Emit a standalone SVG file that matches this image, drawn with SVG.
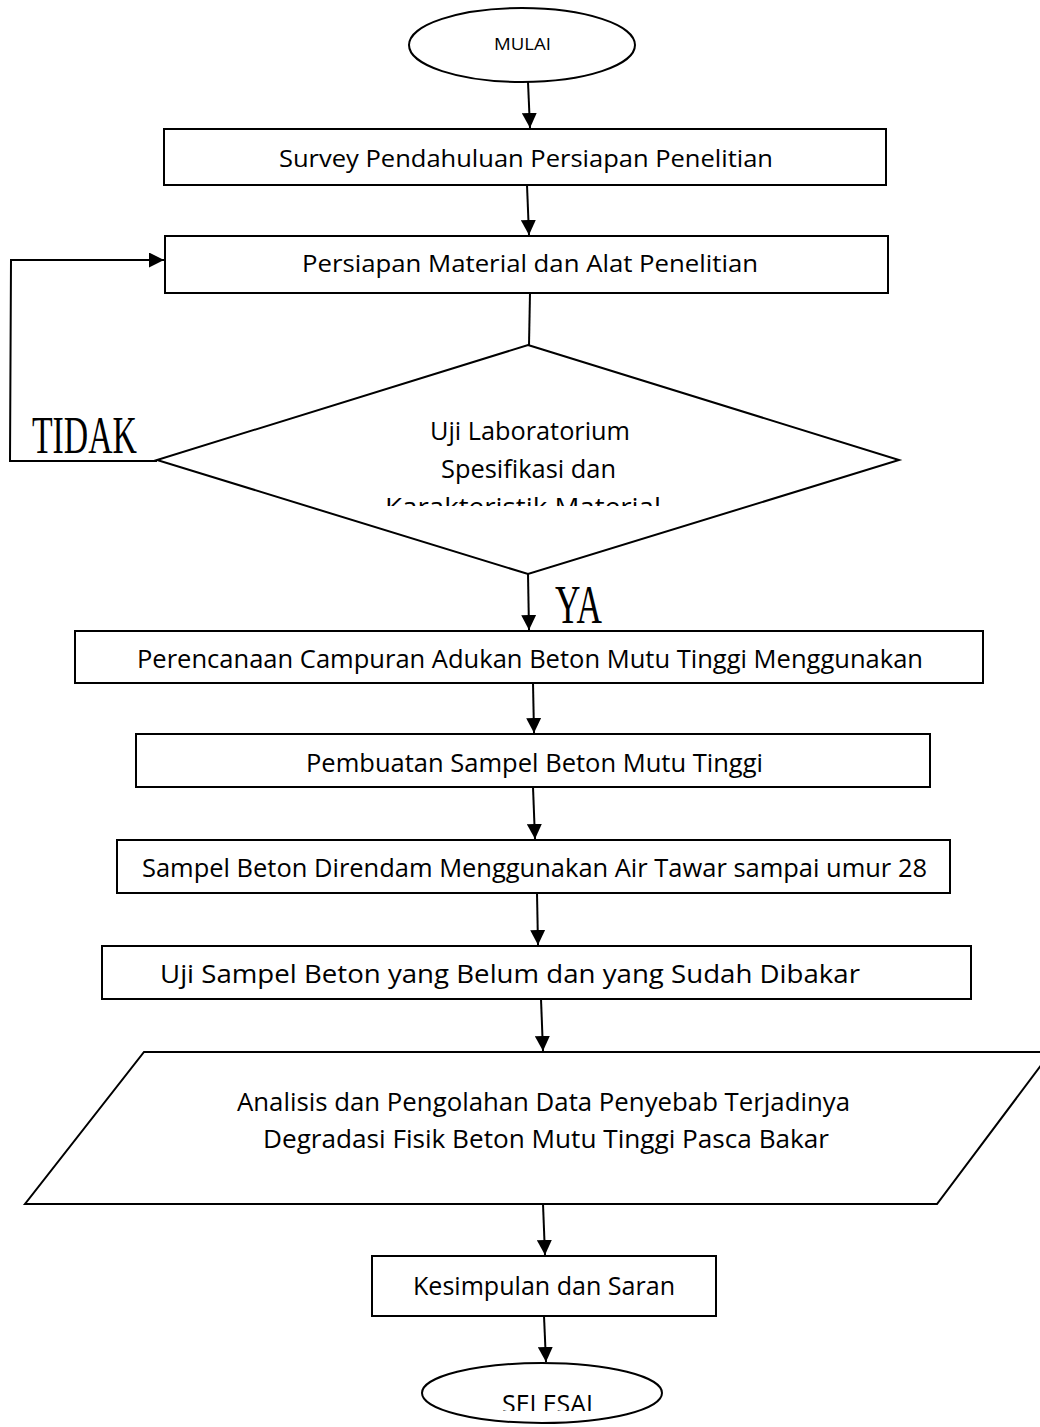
<svg xmlns="http://www.w3.org/2000/svg" width="1040" height="1427" viewBox="0 0 1040 1427">
<style>
.shape{fill:#fff;stroke:#000;stroke-width:2}
.tn{font-family:"Open Sans","Liberation Sans",sans-serif;fill:#000}
.serif{font-family:"Liberation Serif","DejaVu Serif",serif;fill:#000}
.conn{fill:none;stroke:#000;stroke-width:2}
</style>
<defs>
<marker id="ah" markerUnits="userSpaceOnUse" markerWidth="15" markerHeight="15" refX="15" refY="7.5" orient="auto" viewBox="0 0 15 15">
<path d="M0,0 L15,7.5 L0,15 z" fill="#000"/>
</marker>
<clipPath id="clipDia"><rect x="150" y="340" width="760" height="166"/></clipPath>
<clipPath id="clipEnd"><rect x="400" y="1360" width="300" height="51"/></clipPath>
</defs>
<rect width="1040" height="1427" fill="#fff"/>

<g id="mulai">
<ellipse class="shape" cx="522" cy="45" rx="113" ry="37"/>
<text class="tn" x="494" y="50" font-size="17" textLength="57" lengthAdjust="spacingAndGlyphs">MULAI</text>
</g>

<g id="survey">
<rect class="shape" x="164" y="129" width="722" height="56"/>
<text class="tn" x="279" y="167" font-size="24" textLength="494" lengthAdjust="spacingAndGlyphs">Survey Pendahuluan Persiapan Penelitian</text>
</g>

<g id="persiapan">
<rect class="shape" x="165" y="236" width="723" height="57"/>
<text class="tn" x="302" y="272" font-size="24" textLength="456" lengthAdjust="spacingAndGlyphs">Persiapan Material dan Alat Penelitian</text>
</g>

<g id="uji-lab">
<polygon class="shape" points="528,345 899,460 528,574 157,460"/>
<text class="tn" x="430" y="440" font-size="25" textLength="200" lengthAdjust="spacingAndGlyphs">Uji Laboratorium</text>
<text class="tn" x="441" y="478" font-size="25" textLength="175" lengthAdjust="spacingAndGlyphs">Spesifikasi dan</text>
<g clip-path="url(#clipDia)">
<text class="tn" x="385" y="516" font-size="25" textLength="276" lengthAdjust="spacingAndGlyphs">Karakteristik Material</text>
</g>
</g>

<g id="perencanaan">
<rect class="shape" x="75" y="631" width="908" height="52"/>
<text class="tn" x="137" y="668" font-size="26" textLength="786" lengthAdjust="spacingAndGlyphs">Perencanaan Campuran Adukan Beton Mutu Tinggi Menggunakan</text>
</g>

<g id="pembuatan">
<rect class="shape" x="136" y="734" width="794" height="53"/>
<text class="tn" x="306" y="772" font-size="26" textLength="457" lengthAdjust="spacingAndGlyphs">Pembuatan Sampel Beton Mutu Tinggi</text>
</g>

<g id="direndam">
<rect class="shape" x="117" y="840" width="833" height="53"/>
<text class="tn" x="142" y="877" font-size="26" textLength="785" lengthAdjust="spacingAndGlyphs">Sampel Beton Direndam Menggunakan Air Tawar sampai umur 28</text>
</g>

<g id="uji-sampel">
<rect class="shape" x="102" y="946" width="869" height="53"/>
<text class="tn" x="160" y="983" font-size="26" textLength="700" lengthAdjust="spacingAndGlyphs">Uji Sampel Beton yang Belum dan yang Sudah Dibakar</text>
</g>

<g id="analisis">
<polygon class="shape" points="144,1052 1051,1052 937,1204 25,1204"/>
<text class="tn" x="237" y="1111" font-size="26" textLength="613" lengthAdjust="spacingAndGlyphs">Analisis dan Pengolahan Data Penyebab Terjadinya</text>
<text class="tn" x="263" y="1148" font-size="26" textLength="566" lengthAdjust="spacingAndGlyphs">Degradasi Fisik Beton Mutu Tinggi Pasca Bakar</text>
</g>

<g id="kesimpulan">
<rect class="shape" x="372" y="1256" width="344" height="60"/>
<text class="tn" x="413" y="1295" font-size="26" textLength="262" lengthAdjust="spacingAndGlyphs">Kesimpulan dan Saran</text>
</g>

<g id="selesai">
<ellipse class="shape" cx="542" cy="1393" rx="120" ry="30"/>
<g clip-path="url(#clipEnd)">
<text class="tn" x="502" y="1413" font-size="25" textLength="91" lengthAdjust="spacingAndGlyphs">SELESAI</text>
</g>
</g>

<g id="labels">
<text class="serif" x="32" y="453" font-size="53" textLength="105" lengthAdjust="spacingAndGlyphs">TIDAK</text>
<text class="serif" x="555" y="623" font-size="54" textLength="47" lengthAdjust="spacingAndGlyphs">YA</text>
</g>

<g id="connectors">
<line class="conn" x1="528" y1="82" x2="530" y2="128" marker-end="url(#ah)"/>
<line class="conn" x1="527" y1="185" x2="529" y2="235" marker-end="url(#ah)"/>
<line class="conn" x1="530" y1="293" x2="529" y2="345"/>
<line class="conn" x1="528" y1="574" x2="529" y2="630" marker-end="url(#ah)"/>
<line class="conn" x1="533" y1="683" x2="534" y2="733" marker-end="url(#ah)"/>
<line class="conn" x1="533" y1="787" x2="535" y2="839" marker-end="url(#ah)"/>
<line class="conn" x1="537" y1="893" x2="538" y2="945" marker-end="url(#ah)"/>
<line class="conn" x1="541" y1="999" x2="543" y2="1051" marker-end="url(#ah)"/>
<line class="conn" x1="543" y1="1204" x2="545" y2="1255" marker-end="url(#ah)"/>
<line class="conn" x1="544" y1="1316" x2="546" y2="1362" marker-end="url(#ah)"/>
<polyline class="conn" points="157,461 10,461 11,260 164,260" marker-end="url(#ah)"/>
</g>
</svg>
